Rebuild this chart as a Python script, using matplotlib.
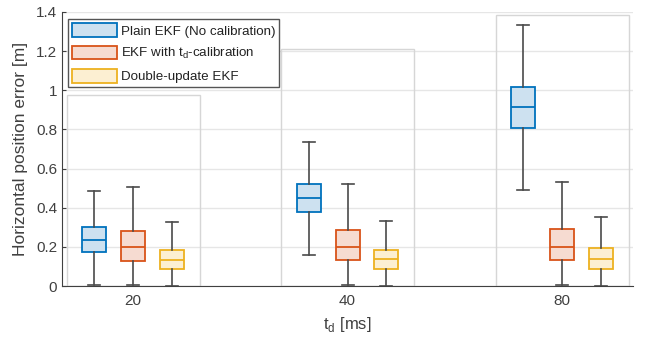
import numpy as np
import matplotlib
matplotlib.use("Agg")
import matplotlib.pyplot as plt
from matplotlib.patches import Rectangle, Patch

plt.rcParams['font.family'] = ['Liberation Sans', 'DejaVu Sans']

delays = ['20', '40', '80']
methods = ['Plain EKF (No calibration)', 'EKF with t$_\\mathregular{d}$-calibration', 'Double-update EKF']

# box stats per method, one value per delay
whislo = [[0.005, 0.160, 0.489], [0.005, 0.005, 0.005], [0.003, 0.003, 0.003]]
q1 = [[0.174, 0.378, 0.807], [0.129, 0.131, 0.131], [0.088, 0.087, 0.087]]
med = [[0.237, 0.451, 0.915], [0.198, 0.201, 0.199], [0.134, 0.136, 0.138]]
q3 = [[0.300, 0.523, 1.018], [0.283, 0.286, 0.290], [0.184, 0.186, 0.193]]
whishi = [[0.485, 0.736, 1.335], [0.507, 0.521, 0.531], [0.325, 0.334, 0.351]]
group_top = [0.975, 1.21, 1.385]

edge_cols = ['#0072BD', '#D95319', '#EDB120']
fill_cols = ['#cde1f0', '#f6dbd1', '#fcefd2']
txt = '#404040'

fig = plt.figure(figsize=(6.46, 3.41), dpi=100)
ax = fig.add_axes([0.096, 0.161, 0.884, 0.804])

offsets = [-0.18, 0.0, 0.18]
pos = np.arange(1, len(delays) + 1)

# gray frames behind each group
for i, top in enumerate(group_top):
    ax.add_patch(Rectangle((pos[i] - 0.31, 0), 0.62, top, fill=False,
                           edgecolor='#d6d6d6', linewidth=1.0, zorder=1))

for m in range(3):
    stats = []
    for g in range(3):
        stats.append(dict(whislo=whislo[m][g], q1=q1[m][g], med=med[m][g],
                          q3=q3[m][g], whishi=whishi[m][g], fliers=[]))
    ax.bxp(stats, positions=pos + offsets[m], widths=0.112, capwidths=0.056,
           patch_artist=True, showfliers=False, manage_ticks=False,
           boxprops=dict(facecolor=fill_cols[m], edgecolor=edge_cols[m], linewidth=1.3),
           medianprops=dict(color=edge_cols[m], linewidth=1.3),
           whiskerprops=dict(color='#4a4a4a', linewidth=1.2),
           capprops=dict(color='#4a4a4a', linewidth=1.2),
           zorder=3)

ax.set_xlim(0.669, 3.331)
ax.set_ylim(0, 1.4)
ax.set_xticks(pos)
ax.set_xticklabels(delays)
ax.set_yticks(np.arange(0, 1.41, 0.2))
ax.set_yticklabels(['0', '0.2', '0.4', '0.6', '0.8', '1', '1.2', '1.4'])
ax.yaxis.grid(True, color='#e6e6e6', linewidth=1.0, zorder=0)
ax.set_axisbelow(True)

for s in ['top', 'right']:
    ax.spines[s].set_visible(False)
ax.spines['left'].set_color('#404040')
ax.spines['bottom'].set_color('#404040')
ax.tick_params(axis='y', direction='in', length=3, colors=txt, labelsize=11, labelcolor=txt)
ax.tick_params(axis='x', length=0, labelsize=11, labelcolor=txt, pad=6)

ax.set_ylabel('Horizontal position error [m]', fontsize=12.5, color=txt, labelpad=6)
ax.set_xlabel('t$_\\mathregular{d}$ [ms]', fontsize=12, color=txt, labelpad=5)

handles = [Patch(facecolor=fill_cols[m], edgecolor=edge_cols[m], linewidth=1.3) for m in range(3)]
leg = ax.legend(handles, methods, loc='upper left', bbox_to_anchor=(0.005, 0.983),
                fontsize=9.6, fancybox=False, edgecolor='#555555', framealpha=1,
                handlelength=3.4, handleheight=1.2, borderpad=0.3, labelspacing=0.6,
                handletextpad=0.3, borderaxespad=0.2)
for t in leg.get_texts():
    t.set_color('#222222')
leg.get_frame().set_linewidth(1.0)

fig.savefig('out.png', dpi=100)
